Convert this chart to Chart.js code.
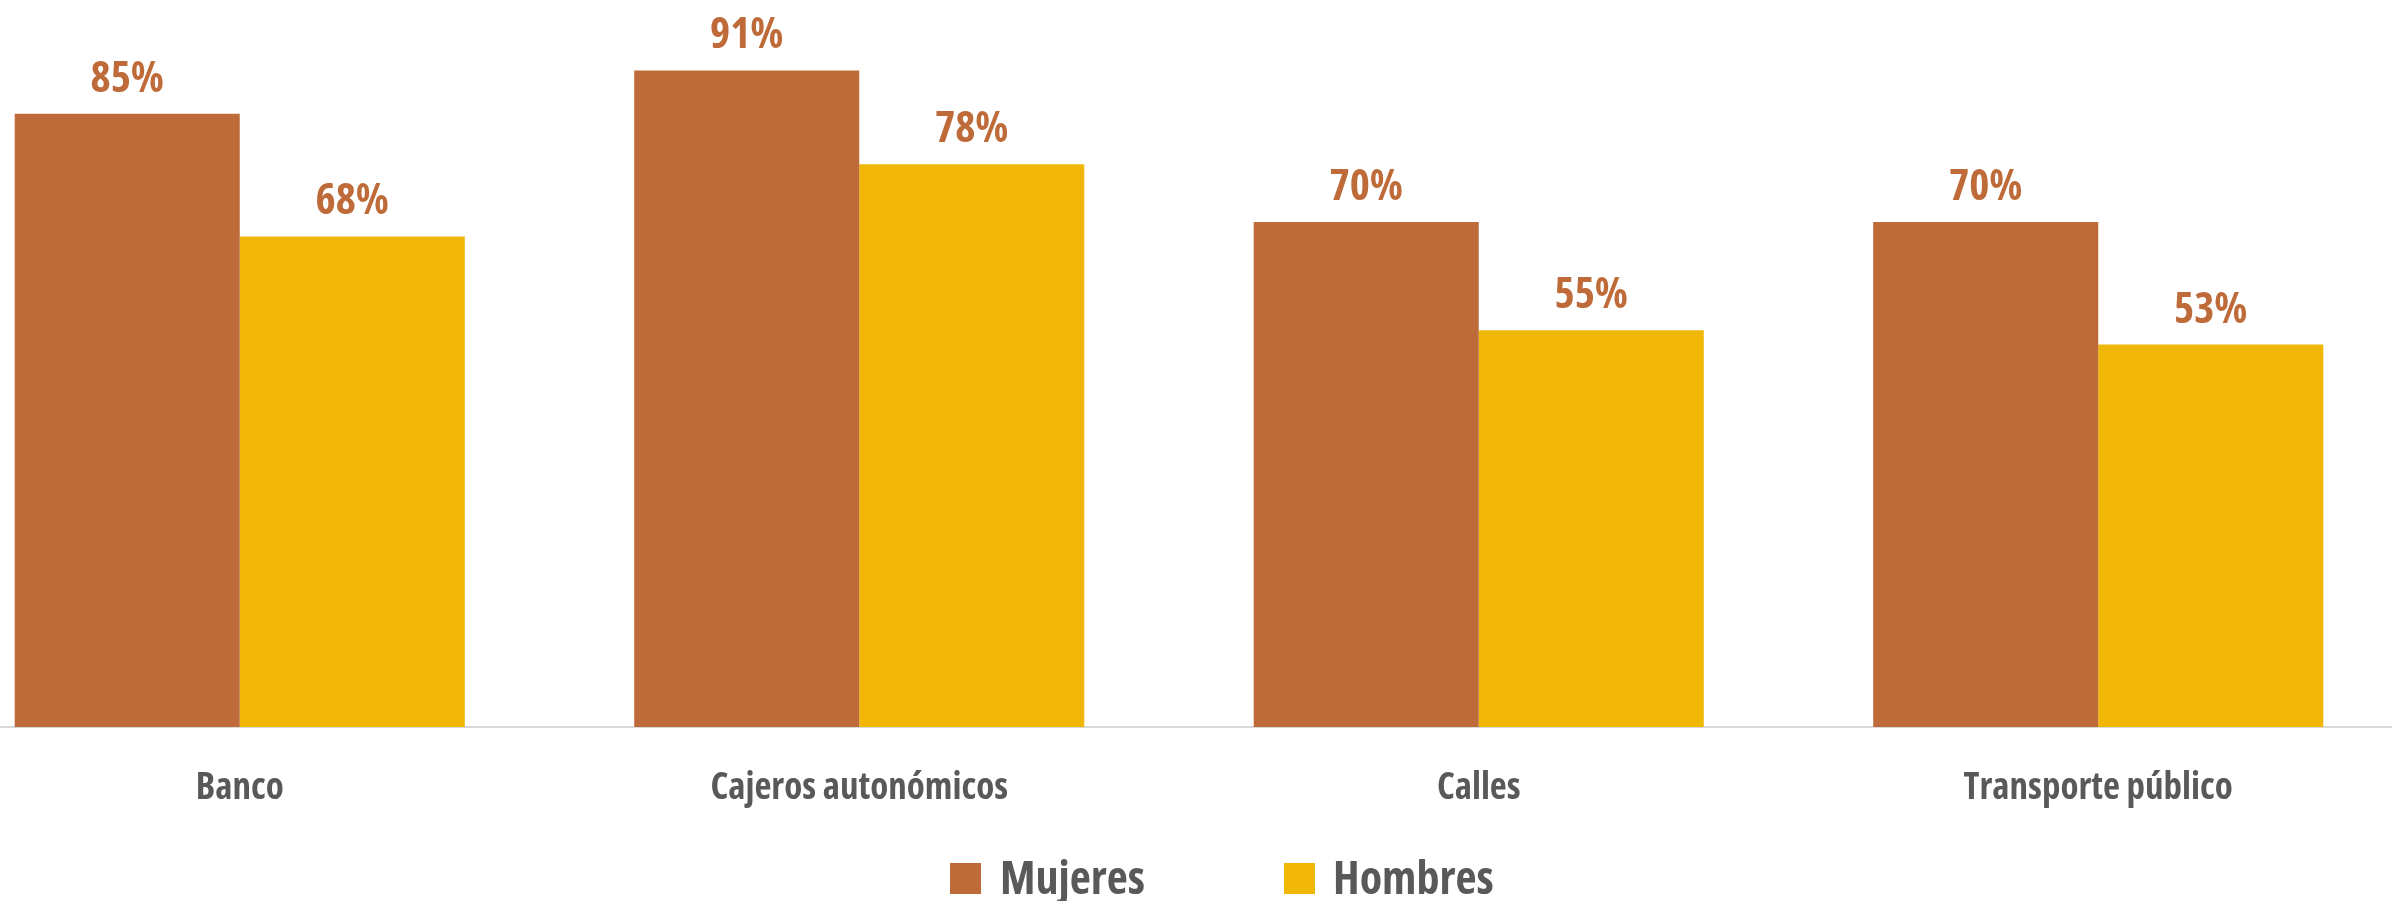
<!DOCTYPE html>
<html>
<head>
<meta charset="utf-8">
<script src="https://cdn.jsdelivr.net/npm/chart.js@4"></script>
<style>
  html, body { margin: 0; padding: 0; background: #ffffff; width: 2392px; height: 901px; overflow: hidden; position: relative; }
  #c { position: absolute; left: -70px; top: 0; }
  .leg { position: absolute; top: 853px; height: 46px; display: flex; align-items: center; font-family: "Open Sans", sans-serif; font-stretch: 75%; font-weight: bold; font-size: 46px; line-height: 46px; color: #595959; white-space: nowrap; }
  .sw { position: absolute; width: 31px; height: 31px; top: 863px; }
</style>
</head>
<body>
<canvas id="c" width="2478" height="901"></canvas>
<div class="sw" id="sw0" style="left:950px;"></div>
<div class="leg" id="lg0" style="left:1000px;"></div>
<div class="sw" id="sw1" style="left:1284px;"></div>
<div class="leg" id="lg1" style="left:1333px;"></div>
<script>
const categories = ["Banco", "Cajeros autonómicos", "Calles", "Transporte público"];
const seriesNames = ["Mujeres", "Hombres"];
const mujeres = [85, 91, 70, 70];
const hombres = [68, 78, 55, 53];
const colors = ["#BE6B39", "#F0B706"];
const labelColor = "#BE6B39";
const FONT = '"Open Sans", sans-serif';

// HTML legend
seriesNames.forEach((n, i) => {
  document.getElementById('sw' + i).style.background = colors[i];
  document.getElementById('lg' + i).textContent = n;
});

// Condensed text on the chart canvas (Open Sans width axis)
const canvas = document.getElementById('c');
const ctx2d = canvas.getContext('2d');
const fontDesc = Object.getOwnPropertyDescriptor(CanvasRenderingContext2D.prototype, 'font');
Object.defineProperty(ctx2d, 'font', {
  configurable: true,
  get() { return fontDesc.get.call(this); },
  set(v) { fontDesc.set.call(this, v); this.fontStretch = 'ultra-condensed'; }
});

const valueLabels = {
  id: 'valueLabels',
  afterDatasetsDraw(chart) {
    const ctx = chart.ctx;
    ctx.save();
    ctx.font = 'bold 43px ' + FONT;
    ctx.fillStyle = labelColor;
    ctx.textAlign = 'center';
    ctx.textBaseline = 'alphabetic';
    chart.data.datasets.forEach((ds, di) => {
      const meta = chart.getDatasetMeta(di);
      meta.data.forEach((bar, i) => {
        ctx.fillText(ds.data[i] + '%', bar.x, bar.y - 22);
      });
    });
    ctx.restore();
  }
};

new Chart(canvas, {
  type: 'bar',
  data: {
    labels: categories,
    datasets: [
      { label: seriesNames[0], data: mujeres, backgroundColor: colors[0], borderWidth: 0, barPercentage: 1.0, categoryPercentage: 0.7265 },
      { label: seriesNames[1], data: hombres, backgroundColor: colors[1], borderWidth: 0, barPercentage: 1.0, categoryPercentage: 0.7265 }
    ]
  },
  options: {
    responsive: false,
    animation: false,
    layout: { padding: { top: 5.5, bottom: 51.6, left: 0, right: 0 } },
    plugins: { legend: { display: false }, tooltip: { enabled: false } },
    scales: {
      x: {
        grid: { display: false, drawTicks: false },
        border: { display: true, color: '#D9D9D9', width: 2 },
        ticks: { padding: 39, color: '#595959', font: { family: FONT, size: 37, weight: 'bold' } }
      },
      y: {
        display: false,
        min: 0, max: 100
      }
    }
  },
  plugins: [valueLabels]
});
</script>
</body>
</html>
